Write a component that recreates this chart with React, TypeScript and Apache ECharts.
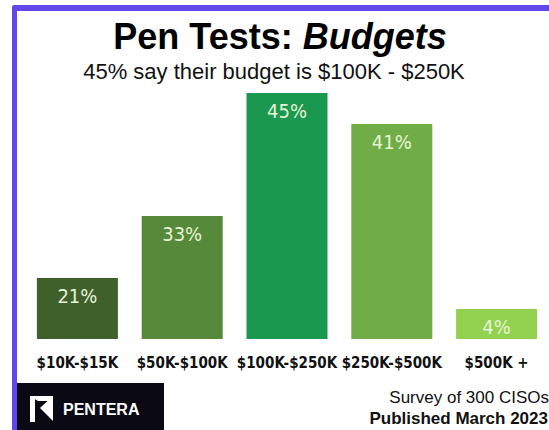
import React, { useEffect, useRef } from "react";
import * as echarts from "echarts";

const categories = ["$10K-$15K", "$50K-$100K", "$100K-$250K", "$250K-$500K", "$500K +"];
const shareLabels = ["21%", "33%", "45%", "41%", "4%"];
// drawn bar heights as they appear in the picture (bars are not to scale)
const barHeights = [61, 123, 246, 215, 30];
const barColors = ["#3f5f2b", "#568a3a", "#1b9850", "#71ad47", "#93d151"];

export default function App() {
  const ref = useRef<HTMLDivElement>(null);
  useEffect(() => {
    const chart = echarts.init(ref.current!, null, { renderer: "svg" });
    const narrow = "'DejaVu Sans Condensed', 'Liberation Sans Narrow', 'Arial Narrow', sans-serif";
    const sans = "'Liberation Sans', Arial, sans-serif";
    chart.setOption({
      animation: false,
      backgroundColor: "#ffffff",
      title: [
        {
          left: 275,
          textAlign: "center",
          top: 13,
          text: "{a|Pen Tests: }{b|Budgets}",
          textStyle: {
            rich: {
              a: { fontFamily: sans, fontSize: 36, fontWeight: "bold", color: "#000" },
              b: { fontFamily: sans, fontSize: 36, fontWeight: "bold", fontStyle: "italic", color: "#000" },
            },
          },
        },
        {
          left: 269,
          textAlign: "center",
          top: 55,
          text: "45% say their budget is $100K - $250K",
          textStyle: { fontFamily: sans, fontSize: 22, fontWeight: "normal", color: "#111" },
        },
      ],
      grid: { left: 25, right: 0, top: 89, bottom: 91 },
      xAxis: {
        type: "category",
        data: categories,
        axisLine: { show: false },
        axisTick: { show: false },
        axisLabel: {
          margin: 16,
          fontFamily: narrow,
          fontWeight: "bold",
          fontSize: 15,
          color: "#111",
          interval: 0,
        },
      },
      yAxis: { type: "value", min: 0, max: 250, show: false, splitLine: { show: false } },
      series: [
        {
          type: "bar",
          barWidth: 81,
          data: barHeights.map((v, i) => ({ value: v, itemStyle: { color: barColors[i] } })),
          label: {
            show: true,
            position: "insideTop",
            distance: 8,
            formatter: (p: any) => shareLabels[p.dataIndex],
            fontFamily: narrow,
            fontSize: 20,
            color: "#e6f4d6",
          },
        },
      ],
      graphic: [
        { type: "rect", shape: { x: 12, y: 5, width: 540, height: 6, r: [3, 0, 0, 0] }, style: { fill: "#6246ea" } },
        { type: "rect", shape: { x: 12, y: 5, width: 5, height: 430, r: [3, 0, 0, 0] }, style: { fill: "#6246ea" } },
        { type: "rect", shape: { x: 17, y: 383, width: 147, height: 50 }, style: { fill: "#0b0a14" } },
        { type: "rect", shape: { x: 30, y: 396, width: 5, height: 26 }, style: { fill: "#ffffff" } },
        { type: "polygon", shape: { points: [[30, 396], [53, 396], [53, 401], [38, 401]] }, style: { fill: "#ffffff" } },
        { type: "polygon", shape: { points: [[53, 396], [53, 421], [40, 408]] }, style: { fill: "#ffffff" } },
        { type: "polygon", shape: { points: [[38, 409], [47, 418], [38, 418]] }, style: { fill: "#0b0a14" } },
        {
          type: "text",
          x: 63,
          y: 409,
          style: {
            text: "PENTERA",
            fill: "#ffffff",
            font: "bold 16px 'Liberation Sans', Arial, sans-serif",
            textVerticalAlign: "middle",
          },
        },
        {
          type: "text",
          x: 549,
          y: 397,
          style: {
            text: "Survey of 300 CISOs",
            fill: "#111",
            font: "17px 'Liberation Sans', Arial, sans-serif",
            textAlign: "right",
            textVerticalAlign: "middle",
          },
        },
        {
          type: "text",
          x: 548,
          y: 418,
          style: {
            text: "Published March 2023",
            fill: "#111",
            font: "bold 17px 'Liberation Sans', Arial, sans-serif",
            textAlign: "right",
            textVerticalAlign: "middle",
          },
        },
      ],
    });
    return () => chart.dispose();
  }, []);
  return <div ref={ref} style={{ width: 549, height: 430, position: "absolute", left: 0, top: 0 }} />;
}
